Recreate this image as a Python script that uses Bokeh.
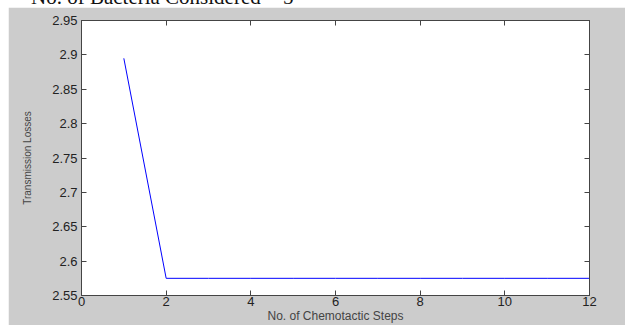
from bokeh.plotting import figure
from bokeh.models import LinearAxis, Range1d, FixedTicker, Div, Spacer
from bokeh.layouts import column, row
from bokeh.embed import file_html
from bokeh.resources import INLINE

steps = [1, 2, 3, 4, 5, 6, 7, 8, 9, 10, 11, 12]
losses = [2.895, 2.575, 2.575, 2.575, 2.575, 2.575, 2.575, 2.575, 2.575, 2.575, 2.575, 2.575]
x_ticks = [0, 2, 4, 6, 8, 10, 12]
y_ticks = [2.55, 2.6, 2.65, 2.7, 2.75, 2.8, 2.85, 2.9, 2.95]
title_text = "No. of Bacteria Considered = 5"

GRAY = "#cccccc"
p = figure(width=617, height=318, output_backend="svg", toolbar_location=None,
           x_range=Range1d(0, 12), y_range=Range1d(2.55, 2.95),
           min_border_left=73, min_border_right=36, min_border_top=13, min_border_bottom=29,
           background_fill_color="white", border_fill_color=GRAY)
p.outline_line_color = "#444444"
p.grid.visible = False

p.line(steps, losses, line_color="#0000ff", line_width=1)

def style(ax):
    ax.axis_line_color = "#444444"
    ax.major_tick_line_color = "#444444"
    ax.major_tick_in = 5
    ax.major_tick_out = 0
    ax.minor_tick_line_color = None
    ax.major_label_text_font = "Liberation Sans"
    ax.major_label_text_font_size = "13px"
    ax.major_label_text_color = "#222222"

xa = p.xaxis[0]
xa.ticker = FixedTicker(ticks=x_ticks)
style(xa)
xa.major_label_standoff = 1
xa.axis_label = "No. of Chemotactic Steps"
xa.axis_label_text_font = "Liberation Sans"
xa.axis_label_text_font_size = "12px"
xa.axis_label_text_font_style = "normal"
xa.axis_label_standoff = 0

ya = p.yaxis[0]
ya.ticker = FixedTicker(ticks=y_ticks)
style(ya)
ya.major_label_overrides = {2.55: "2.55", 2.6: "2.6", 2.65: "2.65", 2.7: "2.7", 2.75: "2.75",
                            2.8: "2.8", 2.85: "2.85", 2.9: "2.9", 2.95: "2.95"}
ya.major_label_standoff = 4
ya.axis_label = "Transmission Losses"
ya.axis_label_text_font = "Liberation Sans"
ya.axis_label_text_font_size = "10px"
ya.axis_label_text_font_style = "normal"
ya.axis_label_standoff = 16

top = LinearAxis(ticker=FixedTicker(ticks=x_ticks))
style(top)
top.major_label_overrides = {t: "" for t in x_ticks}
top.major_label_standoff = 0
p.add_layout(top, "above")
right = LinearAxis(ticker=FixedTicker(ticks=y_ticks))
style(right)
right.major_label_overrides = {t: "" for t in y_ticks}
right.major_label_standoff = 0
p.add_layout(right, "right")

inner = ('<div style="position:relative; top:-13px; left:31px; white-space:nowrap; '
         'font-family:\'Liberation Serif\'; font-size:21px; line-height:21px; color:#111;">'
         + title_text + '</div>')
title = Div(text=inner, width=625, height=7,
            styles={"overflow": "hidden", "background": "white", "margin": "0"})
layout = column(title, row(Spacer(width=8, height=318), p), spacing=0)

open("out.html", "w").write(file_html(layout, INLINE))
